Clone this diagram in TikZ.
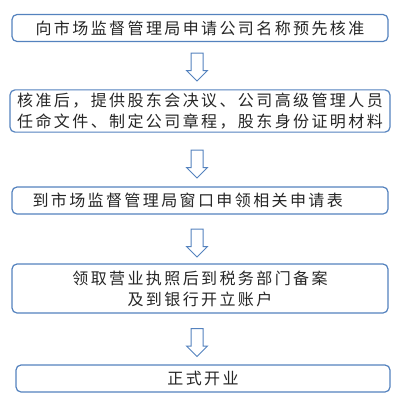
\documentclass[tikz,border=0pt]{standalone}
\usepackage{fontspec}
\newfontfamily\cjk[LetterSpace=15]{Noto Sans CJK SC}
\usetikzlibrary{shapes.arrows}
\definecolor{boxblue}{RGB}{84,130,190}

\begin{document}
\begin{tikzpicture}[x=1pt,y=-1pt,
  stepbox/.style={draw=boxblue,line width=1.2pt,rounded corners=5pt,fill=white,
    minimum width=376pt,minimum height=27pt,inner sep=3pt,
    font=\cjk\fontsize{16}{21}\selectfont,text=black!85,align=center},
  downarrow/.style={single arrow,draw=boxblue,line width=1pt,fill=white,
    shape border rotate=270,minimum height=28pt,minimum width=20pt,
    inner sep=5.5pt,single arrow head extend=4.5pt}]
\useasboundingbox (0,0) rectangle (405,410);
\node[stepbox] (s1) at (200,28) {向市场监督管理局申请公司名称预先核准};
\node[downarrow] (a1) at (197,64) {};
\node[stepbox,minimum width=380pt,minimum height=42pt] (s2) at (200,111) {核准后，提供股东会决议、公司高级管理人员\\任命文件、制定公司章程，股东身份证明材料};
\node[downarrow] (a2) at (197,161) {};
\node[stepbox,text width=335pt,align=left] (s3) at (200,200.5) {到市场监督管理局窗口申领相关申请表};
\node[downarrow] (a3) at (197,240) {};
\node[stepbox,minimum height=49pt] (s4) at (200,288.5) {领取营业执照后到税务部门备案\\及到银行开立账户};
\node[downarrow] (a4) at (197,339.5) {};
\node[stepbox,minimum width=374pt] (s5) at (203,378.5) {正式开业};
\end{tikzpicture}
\end{document}
